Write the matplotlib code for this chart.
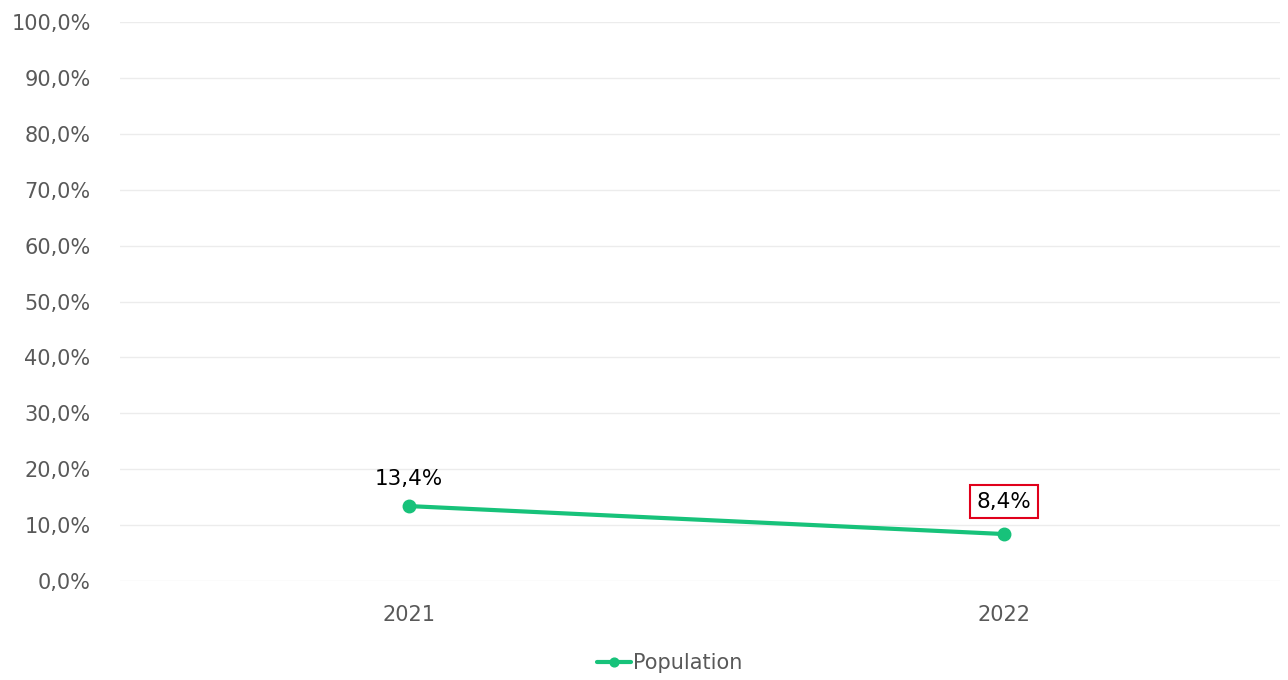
import matplotlib
matplotlib.use("Agg")
import matplotlib.pyplot as plt
from matplotlib.ticker import FuncFormatter

categories = ["2021", "2022"]
population = [13.4, 8.4]
value_labels = ["13,4%", "8,4%"]
y_ticks = [0, 10, 20, 30, 40, 50, 60, 70, 80, 90, 100]

green = "#17c27a"
gray = "#595959"

fig = plt.figure(figsize=(12.88, 6.8), dpi=100)
ax = fig.add_axes([0.093, 0.1456, 0.901, 0.822])

x = list(range(len(categories)))
ax.plot(x, population, color=green, linewidth=3, marker="o", markersize=9,
        label="Population", solid_capstyle="round", zorder=3)

ax.set_ylim(0, 100)
ax.set_xlim(-0.487, 1.465)
ax.set_yticks(y_ticks)
ax.yaxis.set_major_formatter(FuncFormatter(lambda v, p: f"{v:.1f}%".replace(".", ",")))
ax.set_xticks(x)
ax.set_xticklabels(categories)
ax.tick_params(axis="both", length=0, colors=gray, labelsize=15)
ax.tick_params(axis="y", pad=21)
ax.tick_params(axis="x", pad=17)
ax.grid(axis="y", color="#ececec", linewidth=1)
ax.set_axisbelow(True)
for s in ax.spines.values():
    s.set_visible(False)

for i, (xv, yv, lab) in enumerate(zip(x, population, value_labels)):
    if i == len(x) - 1:
        ax.annotate(lab, (xv, yv), xytext=(0, 16), textcoords="offset points",
                    ha="center", va="bottom", fontsize=15.5, color="black",
                    bbox=dict(boxstyle="square,pad=0.3", fc="white", ec="#e0001b", lw=1.5))
    else:
        ax.annotate(lab, (xv, yv), xytext=(0, 12), textcoords="offset points",
                    ha="center", va="bottom", fontsize=15.5, color="black")

leg = fig.legend(loc="lower center", bbox_to_anchor=(0.52, -0.017), frameon=False,
                 fontsize=15, handlelength=1.6, handletextpad=0.1, markerscale=0.7)
for t in leg.get_texts():
    t.set_color(gray)

fig.savefig("out.png", dpi=100)
